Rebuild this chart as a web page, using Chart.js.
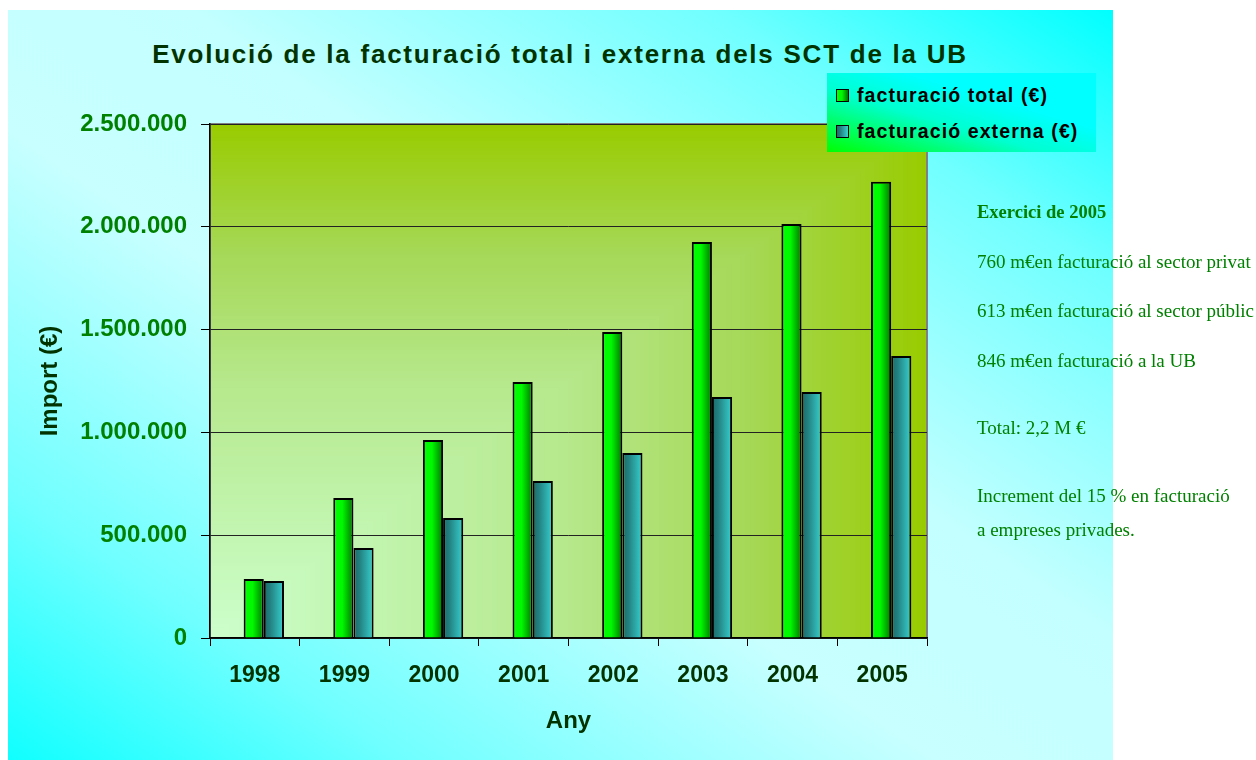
<!DOCTYPE html>
<html>
<head>
<meta charset="utf-8">
<script src="https://cdn.jsdelivr.net/npm/chart.js@4.4.1/dist/chart.umd.min.js"></script>
<style>
  html, body { margin: 0; padding: 0; width: 1256px; height: 760px; overflow: hidden; background: #fff; }
  body { font-family: "Liberation Sans", Arial, sans-serif; }
  #frame {
    position: absolute; left: 8px; top: 10px; width: 1105px; height: 750px;
    background: linear-gradient(to bottom left, #00ffff 0%, #70ffff 18%, #c4ffff 42%, #c8ffff 58%, #70ffff 82%, #10ffff 100%);
  }
  #chart-wrap { position: absolute; left: 8px; top: 10px; width: 1104px; height: 750px; }
  #title {
    position: absolute; left: 8px; top: 39px; width: 1104px; line-height: 30px;
    text-align: center; font-weight: bold; font-size: 26px; letter-spacing: 1.75px; color: #003300;
  }
  #legend {
    position: absolute; left: 827px; top: 73px; width: 269px; height: 79px;
    background: linear-gradient(to top right, #00ff00 0%, #00ffd0 40%, #00ffff 65%, #00ffff 100%);
  }
  .leg-item { position: absolute; left: 9px; height: 20px; line-height: 20px; white-space: nowrap;
    font-weight: bold; font-size: 19.5px; letter-spacing: 1.1px; color: #000; }
  .leg-box { position: absolute; left: 0; top: 4px; width: 11px; height: 11px; border: 1px solid #000; }
  .leg-text { position: absolute; left: 21px; top: 0; }
  .note { position: absolute; left: 977px; line-height: 20px; white-space: nowrap;
    font-family: "Liberation Serif", "Times New Roman", serif; font-size: 19px; color: #008000; }
</style>
</head>
<body>
<div id="frame"></div>
<div id="title">Evolució de la facturació total i externa dels SCT de la UB</div>
<div id="chart-wrap"><canvas id="chart" width="1104" height="750"></canvas></div>
<div id="legend"></div>
<div id="notes"></div>
<script>
// Data
const years = ['1998', '1999', '2000', '2001', '2002', '2003', '2004', '2005'];
const totalBilling = [287000, 681000, 963000, 1245000, 1488000, 1926000, 2014000, 2219000];
const externalBilling = [277000, 438000, 584000, 764000, 900000, 1172000, 1196000, 1372000];
const seriesLabels = ['facturació total (€)', 'facturació externa (€)'];

const notes = [
    { text: 'Exercici de 2005', bold: true, top: 202 },
    { text: '760 m€en facturació al sector privat', top: 252 },
    { text: '613 m€en facturació al sector públic', top: 301 },
    { text: '846 m€en facturació a la UB', top: 351 },
    { text: 'Total: 2,2 M €', top: 418 },
    { text: 'Increment del 15 % en facturació', top: 486 },
    { text: 'a empreses privades.', top: 520 }
];

const greenStops = [[0, '#00ff00'], [0.45, '#00f800'], [1, '#007400']];
const tealStops = [[0, '#1b6a6a'], [0.3, '#22807f'], [1, '#38d0d0']];
// plot area fill, from the bottom-left corner outwards
const plotStops = [[0, [204, 255, 204]], [0.5, [182, 232, 140]], [0.75, [166, 216, 88]], [1, [153, 204, 0]]];

const fmt = v => String(v).replace(/\B(?=(\d{3})+(?!\d))/g, '.');

function colorAt(stops, t) {
    for (let i = 1; i < stops.length; i++) {
        const [t1, c1] = stops[i];
        const [t0, c0] = stops[i - 1];
        if (t <= t1) {
            const k = (t - t0) / (t1 - t0);
            return `rgb(${c0.map((v, j) => Math.round(v + (c1[j] - v) * k)).join(',')})`;
        }
    }
    return `rgb(${stops[stops.length - 1][1].join(',')})`;
}

// gradient across each bar, read from the bar element once it has been laid out
function barFill(stops) {
    return (c) => {
        const chart = c.chart;
        const el = chart.getDatasetMeta(c.datasetIndex).data[c.dataIndex];
        if (!el || el.x == null || !el.width) return stops[0][1];
        const g = chart.ctx.createLinearGradient(el.x - el.width / 2, 0, el.x + el.width / 2, 0);
        stops.forEach(([o, col]) => g.addColorStop(o, col));
        return g;
    };
}

const plotBackground = {
    id: 'plotBackground',
    beforeDraw(chart) {
        const { ctx, chartArea: a } = chart;
        const steps = 150;
        ctx.save();
        for (let i = steps; i >= 1; i--) {
            const t = i / steps;
            ctx.fillStyle = colorAt(plotStops, t);
            ctx.fillRect(a.left, a.bottom - a.height * t, a.width * t, a.height * t);
        }
        ctx.strokeStyle = '#808080';
        ctx.lineWidth = 2;
        ctx.strokeRect(a.left, a.top, a.width, a.height);
        ctx.restore();
    }
};

// Excel draws the pair slightly right of the category centre
const barShift = {
    id: 'barShift',
    beforeDatasetsDraw(chart) { chart.ctx.save(); chart.ctx.translate(9, 0); },
    afterDatasetsDraw(chart) { chart.ctx.restore(); }
};

Chart.defaults.font.family = '"Liberation Sans", Arial, sans-serif';

const chart = new Chart(document.getElementById('chart').getContext('2d'), {
    type: 'bar',
    data: {
        labels: years,
        datasets: [{
            label: seriesLabels[0],
            data: totalBilling,
            backgroundColor: barFill(greenStops),
            borderColor: '#000',
            borderWidth: 2,
            categoryPercentage: 0.45,
            barPercentage: 1
        }, {
            label: seriesLabels[1],
            data: externalBilling,
            backgroundColor: barFill(tealStops),
            borderColor: '#000',
            borderWidth: 2,
            categoryPercentage: 0.45,
            barPercentage: 1
        }]
    },
    options: {
        responsive: false,
        animation: false,
        layout: { padding: { left: 0, top: 114, right: 185, bottom: 0 } },
        plugins: {
            legend: { display: false },
            title: { display: false },
            tooltip: { enabled: false }
        },
        scales: {
            x: {
                afterFit: (s) => { s.height = 122; },
                grid: { offset: true, drawOnChartArea: false, drawTicks: true, tickLength: 8, tickColor: '#000' },
                border: { display: true, color: '#000', width: 1.5 },
                ticks: { color: '#003300', padding: 16, font: { size: 23, weight: 'bold' } },
                title: { display: true, text: 'Any', color: '#003300', font: { size: 24, weight: 'bold' },
                    padding: { top: 0, bottom: 24 } }
            },
            y: {
                min: 0,
                max: 2500000,
                afterFit: (s) => { s.width = 202; },
                grid: { color: '#222', lineWidth: 1, drawTicks: true, tickLength: 9, tickColor: '#000' },
                border: { display: true, color: '#000', width: 1.5 },
                ticks: { stepSize: 500000, color: '#008000', padding: 14, font: { size: 24, weight: 'bold' },
                    callback: (v) => fmt(v) },
                title: { display: true, text: 'Import (€)', color: '#003300', font: { size: 24, weight: 'bold' },
                    padding: { top: 28, bottom: 0 } }
            }
        }
    },
    plugins: [plotBackground, barShift]
});
chart.update();

// HTML legend
const legend = document.getElementById('legend');
chart.data.datasets.forEach((ds, i) => {
    const stops = i === 0 ? greenStops : tealStops;
    const item = document.createElement('div');
    item.className = 'leg-item';
    item.style.top = (i === 0 ? 12 : 48) + 'px';
    const box = document.createElement('div');
    box.className = 'leg-box';
    box.style.background = `linear-gradient(to right, ${stops.map(([o, c]) => `${c} ${o * 100}%`).join(', ')})`;
    const txt = document.createElement('span');
    txt.className = 'leg-text';
    txt.textContent = ds.label;
    item.appendChild(box);
    item.appendChild(txt);
    legend.appendChild(item);
});

// side notes
const notesEl = document.getElementById('notes');
notes.forEach(n => {
    const d = document.createElement('div');
    d.className = 'note';
    d.style.top = n.top + 'px';
    if (n.bold) { d.style.fontWeight = 'bold'; d.style.fontSize = '18.5px'; }
    d.textContent = n.text;
    notesEl.appendChild(d);
});
</script>
</body>
</html>
